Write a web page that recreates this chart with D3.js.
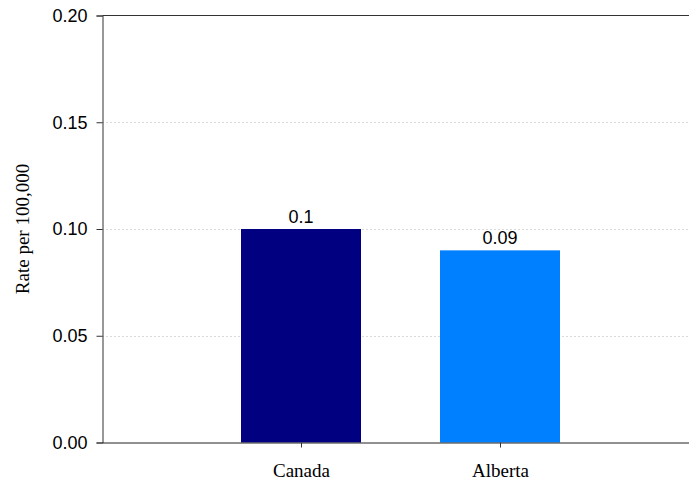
<!DOCTYPE html>
<html>
<head>
<meta charset="utf-8">
<script src="https://cdn.jsdelivr.net/npm/d3@7"></script>
<style>
  html, body { margin: 0; padding: 0; background: #fff; }
  svg { display: block; }
</style>
</head>
<body>
<svg id="chart" width="689" height="482"></svg>
<script>
const categories = ["Canada", "Alberta"];
const values = [0.10, 0.09];
const valueLabels = ["0.1", "0.09"];
const yTicks = [0, 0.05, 0.10, 0.15, 0.20];
const yTitle = "Rate per 100,000";
const barColors = ["#000080", "#0080FF"];

const svg = d3.select("#chart");
const plotL = 102.5, plotR = 689, plotT = 15.5, plotB = 442.5;

const y = d3.scaleLinear().domain([0, 0.20]).range([plotB, plotT]);
const x = d3.scalePoint().domain(categories).range([301, 500]);
const barW = 120;

// gridlines
svg.append("g").selectAll("line")
  .data(yTicks.filter(t => t > 0 && t < 0.20))
  .join("line")
  .attr("x1", plotL).attr("x2", plotR)
  .attr("y1", d => Math.round(y(d)) + 0.5).attr("y2", d => Math.round(y(d)) + 0.5)
  .attr("stroke", "#b4b4b4").attr("stroke-width", 1)
  .attr("stroke-dasharray", "1,3");

// top border
svg.append("line")
  .attr("x1", plotL).attr("x2", plotR)
  .attr("y1", plotT).attr("y2", plotT)
  .attr("stroke", "#333").attr("stroke-width", 1);

// bars
svg.append("g").selectAll("rect")
  .data(values)
  .join("rect")
  .attr("x", (d, i) => x(categories[i]) - barW / 2)
  .attr("y", d => y(d))
  .attr("width", barW)
  .attr("height", d => plotB - y(d))
  .attr("fill", (d, i) => barColors[i]);

// value labels
svg.append("g").selectAll("text")
  .data(values)
  .join("text")
  .attr("x", (d, i) => x(categories[i]))
  .attr("y", d => y(d) - 6)
  .attr("text-anchor", "middle")
  .attr("font-family", "Liberation Sans, Arial, sans-serif")
  .attr("font-size", 18)
  .attr("fill", "#000")
  .text((d, i) => valueLabels[i]);

// y axis
const yAxis = d3.axisLeft(y).tickValues(yTicks).tickFormat(d3.format(".2f")).tickSize(6).tickPadding(9);
const gy = svg.append("g").attr("transform", `translate(${plotL},0)`).call(yAxis);
gy.select(".domain").attr("stroke", "#333");
gy.selectAll(".tick line").attr("stroke", "#333");
gy.selectAll(".tick text")
  .attr("font-family", "Liberation Sans, Arial, sans-serif")
  .attr("font-size", 18).attr("fill", "#000");

// x axis
const xAxis = d3.axisBottom(x).tickSize(5).tickPadding(16);
const gx = svg.append("g").attr("transform", `translate(0,${plotB})`).call(xAxis);
gx.select(".domain").attr("d", `M${plotL},0.5H${plotR}`).attr("stroke", "#222");
gx.selectAll(".tick line").attr("stroke", "#333");
gx.selectAll(".tick text")
  .attr("font-family", "Liberation Serif, Times New Roman, serif")
  .attr("font-size", 19).attr("fill", "#000");

// y title
svg.append("text")
  .attr("transform", `translate(29,229) rotate(-90)`)
  .attr("text-anchor", "middle")
  .attr("font-family", "Liberation Serif, Times New Roman, serif")
  .attr("font-size", 19)
  .attr("fill", "#000")
  .text(yTitle);
</script>
</body>
</html>
